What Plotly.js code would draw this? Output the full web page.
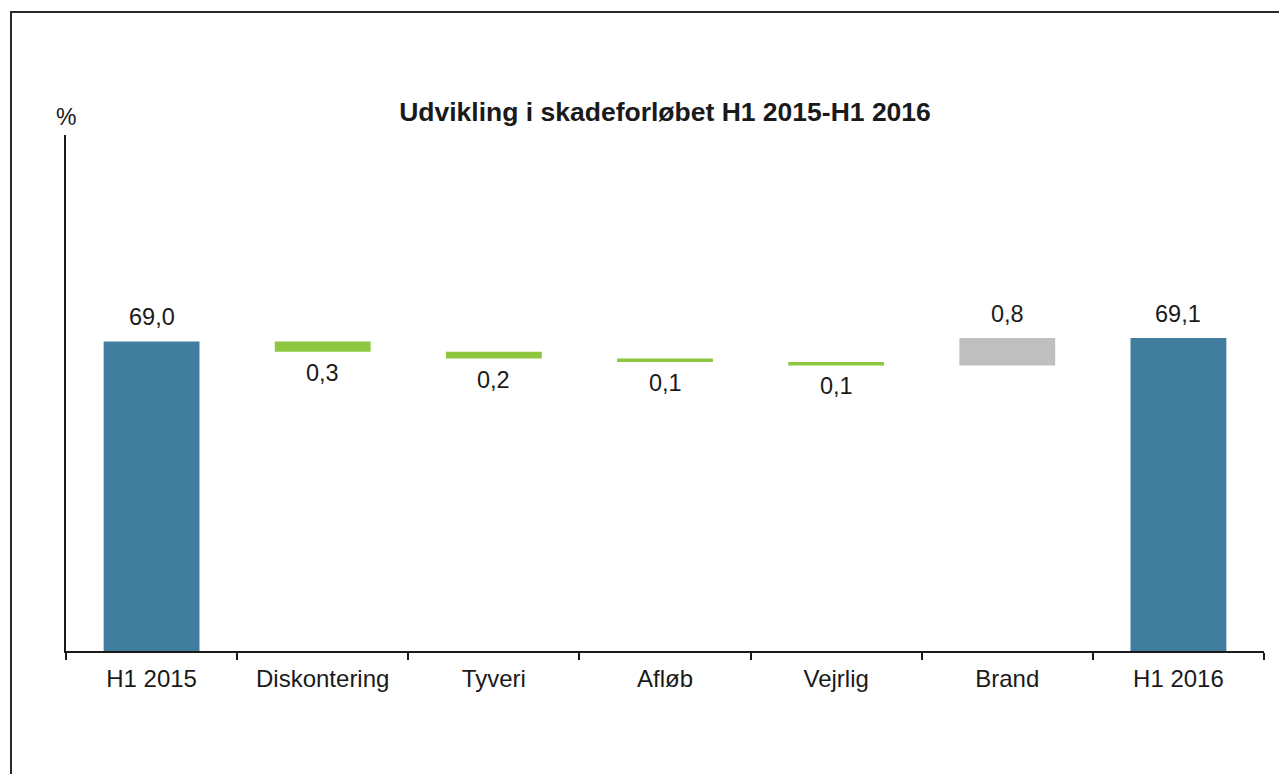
<!DOCTYPE html>
<html>
<head>
<meta charset="utf-8">
<script src="https://cdn.plot.ly/plotly-3.0.1.min.js"></script>
<style>
  html, body { margin: 0; padding: 0; background: #fff; }
  #wrap { position: relative; width: 1279px; height: 774px; overflow: hidden; }
  #frame { position: absolute; left: 10px; top: 11px; right: -10px; bottom: -10px;
           border-left: 2px solid #2a2a2a; border-top: 2px solid #2a2a2a; pointer-events: none; z-index: 2; }
  #chart { position: absolute; left: 0; top: 0; width: 1279px; height: 774px; }
</style>
</head>
<body>
<div id="wrap">
  <div id="chart"></div>
  <div id="frame"></div>
</div>
<script>
const categories = ["H1 2015", "Diskontering", "Tyveri", "Afløb", "Vejrlig", "Brand", "H1 2016"];
const measures   = ["absolute", "relative", "relative", "relative", "relative", "relative", "total"];
const values     = [69.0, -0.3, -0.2, -0.1, -0.1, 0.8, 69.1];

const BLUE = "#417e9e", GREEN = "#8dc63f", GREY = "#bfbfbf";
const FONT = "Liberation Sans, Arial, sans-serif";

function fmt(v) { return Math.abs(v).toFixed(1).replace(".", ","); }

// cumulative levels to place labels
const annotations = [];
let level = 0;
values.forEach((v, i) => {
  let top, bottom;
  if (measures[i] === "absolute" || measures[i] === "total") {
    level = v; top = v; bottom = null;
  } else {
    const start = level; level = start + v;
    top = Math.max(start, level); bottom = Math.min(start, level);
  }
  const above = (measures[i] !== "relative") || v > 0;
  annotations.push({
    x: categories[i], y: above ? top : bottom, xref: "x", yref: "y",
    text: fmt(v), showarrow: false, yanchor: "middle",
    yshift: above ? 24 : -21,
    font: { family: FONT, size: 23.5, color: "#1a1a1a" }
  });
});

annotations.push({
  xref: "paper", yref: "paper", x: 0, y: 1, xanchor: "center", yanchor: "middle",
  yshift: 18, text: "%", showarrow: false,
  font: { family: FONT, size: 23, color: "#1a1a1a" }
});

const trace = {
  type: "waterfall",
  x: categories,
  y: values,
  measure: measures,
  width: 0.56,
  connector: { visible: false },
  increasing: { marker: { color: GREY } },
  decreasing: { marker: { color: GREEN } },
  totals: { marker: { color: BLUE } },
  hoverinfo: "none",
  textinfo: "none"
};

const layout = {
  width: 1279, height: 774,
  margin: { l: 66, r: 15, t: 135, b: 123 },
  paper_bgcolor: "rgba(0,0,0,0)",
  plot_bgcolor: "rgba(0,0,0,0)",
  showlegend: false,
  title: {
    text: "<b>Udvikling i skadeforløbet H1 2015-H1 2016</b>",
    font: { family: FONT, size: 26.5, color: "#1a1a1a" },
    x: 0.5, xref: "paper", y: 1 - 112 / 774, yref: "container", yanchor: "middle"
  },
  xaxis: {
    type: "category",
    showline: true, linecolor: "#1a1a1a", linewidth: 2,
    ticks: "outside", tickson: "boundaries", ticklen: 7, tickwidth: 2, tickcolor: "#1a1a1a",
    showgrid: false, zeroline: false,
    tickfont: { family: FONT, size: 24, color: "#1a1a1a" },
    ticklabelstandoff: 5,
    fixedrange: true
  },
  yaxis: {
    range: [60, 75],
    showline: true, linecolor: "#1a1a1a", linewidth: 2,
    showticklabels: false, ticks: "", showgrid: false, zeroline: false,
    fixedrange: true
  },
  annotations: annotations
};

Plotly.newPlot("chart", [trace], layout, { displayModeBar: false, staticPlot: true });
</script>
</body>
</html>
